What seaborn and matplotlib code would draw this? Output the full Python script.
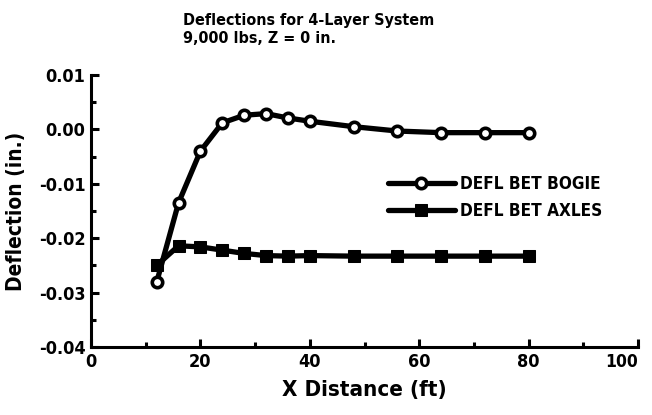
import matplotlib
matplotlib.use("Agg")
import matplotlib.pyplot as plt
from matplotlib.ticker import MultipleLocator, FormatStrFormatter
import seaborn as sns
import pandas as pd

# Deflection readings along the pavement, 9,000 lb load at surface
x_bogie = [12, 16, 20, 24, 28, 32, 36, 40, 48, 56, 64, 72, 80]
defl_bogie = [-0.0281, -0.0135, -0.0040, 0.0012, 0.0026, 0.0029, 0.0021,
              0.0015, 0.0005, -0.0003, -0.0006, -0.0006, -0.0006]

x_axles = [12, 16, 20, 24, 28, 32, 36, 40, 48, 56, 64, 72, 80]
defl_axles = [-0.0250, -0.0214, -0.0216, -0.0222, -0.0228, -0.0232, -0.0233,
              -0.0232, -0.0233, -0.0233, -0.0233, -0.0233, -0.0233]

series_names = ["DEFL BET BOGIE", "DEFL BET AXLES"]
title_lines = ["Deflections for 4-Layer System", "9,000 lbs, Z = 0 in."]

df = pd.concat([
    pd.DataFrame({"x": x_bogie, "defl": defl_bogie, "series": series_names[0]}),
    pd.DataFrame({"x": x_axles, "defl": defl_axles, "series": series_names[1]}),
])

sns.set_style("ticks")
plt.rcParams["font.family"] = ["DejaVu Sans"]
plt.rcParams["font.stretch"] = "condensed"
plt.rcParams["font.weight"] = "bold"
for key in ["text.color", "axes.labelcolor", "xtick.color", "ytick.color",
            "axes.edgecolor"]:
    plt.rcParams[key] = "black"

fig = plt.figure(figsize=(6.52, 4.15), dpi=100)
ax = fig.add_axes([0.1396, 0.1639, 0.8389, 0.6554])

sns.lineplot(data=df[df.series == series_names[0]], x="x", y="defl", ax=ax,
             color="black", lw=3.8, marker="o", markersize=7.5,
             markerfacecolor="white", markeredgecolor="black",
             markeredgewidth=2.6, label=series_names[0], zorder=3)
sns.lineplot(data=df[df.series == series_names[1]], x="x", y="defl", ax=ax,
             color="black", lw=3.8, marker="s", markersize=9,
             markerfacecolor="black", markeredgecolor="black",
             label=series_names[1], zorder=2)

ax.set_xlim(0, 100)
ax.set_ylim(-0.04, 0.01)
ax.xaxis.set_major_locator(MultipleLocator(20))
ax.xaxis.set_minor_locator(MultipleLocator(10))
ax.yaxis.set_major_locator(MultipleLocator(0.01))
ax.yaxis.set_minor_locator(MultipleLocator(0.005))
ax.yaxis.set_major_formatter(FormatStrFormatter("%.2f"))

for s in ["top", "right"]:
    ax.spines[s].set_visible(False)
for s in ["left", "bottom"]:
    ax.spines[s].set_linewidth(2.2)

ax.tick_params(which="major", direction="in", length=6, width=2.2,
               labelsize=13, pad=4)
ax.tick_params(which="minor", direction="in", length=3.5, width=2.2)

# keep the rightmost x label inside the figure
fig.canvas.draw()
for tick in ax.xaxis.get_major_ticks():
    if tick.label1.get_text() == "100":
        tick.label1.set_horizontalalignment("right")
        tick.label1.set_fontsize(12.5)

ax.set_xlabel("X Distance (ft)", fontsize=16, fontweight="bold", labelpad=7)
ax.set_ylabel("Deflection (in.)", fontsize=15, fontweight="bold", labelpad=9)

fig.text(0.281, 0.968, "\n".join(title_lines), ha="left", va="top",
         fontsize=11.5, fontweight="bold", linespacing=1.25)

leg = ax.legend(loc="upper left", bbox_to_anchor=(0.515, 0.69), frameon=False,
                handlelength=3.9, handletextpad=0.3, labelspacing=0.55,
                prop={"size": 12.3, "weight": "bold", "stretch": "condensed"})

fig.savefig("out.png", dpi=100, facecolor="white")
